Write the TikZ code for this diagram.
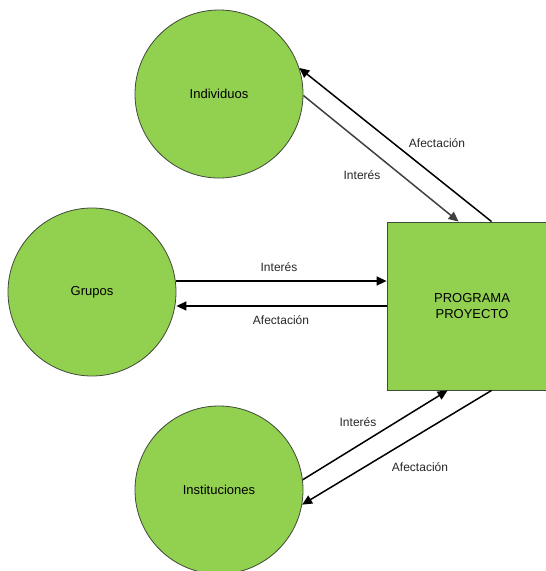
\documentclass[tikz,border=0pt]{standalone}
\usepackage{fontspec}
\setmainfont{Liberation Sans}
\usetikzlibrary{arrows.meta,calc}
\definecolor{leaf}{HTML}{92D050}
\definecolor{rim}{HTML}{3F4A3A}
\definecolor{darkline}{HTML}{404040}
\tikzset{
  actor/.style={circle,draw=rim,line width=0.8pt,fill=leaf,minimum size=168pt,inner sep=0pt,font=\fontsize{13}{15}\selectfont},
  core/.style={rectangle,draw=rim,line width=0.8pt,fill=leaf,minimum width=170pt,minimum height=168pt,inner sep=0pt,align=center,font=\fontsize{13}{15.5}\selectfont},
  flow/.style={line width=1.5pt,-{Triangle[length=10pt,width=9pt]}},
  lbl/.style={font=\fontsize{12}{14}\selectfont,text=black!85}
}
\begin{document}
\begin{tikzpicture}[x=1pt,y=-1pt]
\useasboundingbox (0,0) rectangle (546,571);

% stakeholders and the programme
\node[actor] (ind) at (219,94) {Individuos};
\node[actor] (gru) at (92,292) {Grupos};
\node[actor] (ins) at (219,490) {Instituciones};
\node[core]  (prog) at (472,306) {PROGRAMA\\PROYECTO};

% Individuos <-> programme
\draw[flow] ($(prog.north west)+(105,0)$) -- (ind.18);
\draw[flow,darkline] (ind.-1) -- ($(prog.north west)+(72,0)$);
\node[lbl] (l1) at (437,143) {Afectación};
\node[lbl] (l2) at (362,175) {Interés};

% Grupos <-> programme
\draw[flow] (gru.east |- 0,281) -- ($(prog.west)+(0,-25)$);
\draw[flow] (prog.west) -- (gru.east |- 0,306);
\node[lbl] (l3) at (279,267) {Interés};
\node[lbl] (l4) at (281,320) {Afectación};

% Instituciones <-> programme
\draw[flow] (ins.7.5) -- ($(prog.south west)+(61,0)$);
\draw[flow] ($(prog.south west)+(105,0)$) -- (ins.-10.8);
\node[lbl] (l5) at (358,422) {Interés};
\node[lbl] (l6) at (420,467) {Afectación};
\end{tikzpicture}
\end{document}
